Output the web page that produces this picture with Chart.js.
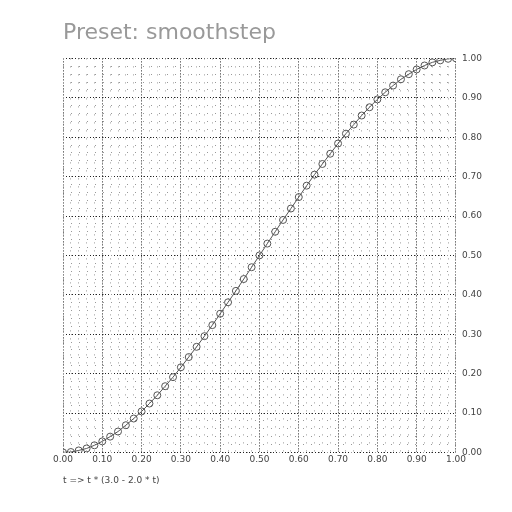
<!DOCTYPE html>
<html>
<head>
  <script src="https://cdn.jsdelivr.net/npm/chart.js"></script>
  <style>
    body { margin: 0; background: #fff; }
  </style>
</head>
<body>
  <canvas id="grafica" width="512" height="512"></canvas>
  <script>
    const titulo = 'Preset: smoothstep';
    const formula = 't => t * (3.0 - 2.0 * t)';
    const tValores = [0, 0.02, 0.04, 0.06, 0.08, 0.10, 0.12, 0.14, 0.16, 0.18, 0.20, 0.22, 0.24, 0.26, 0.28, 0.30,
      0.32, 0.34, 0.36, 0.38, 0.40, 0.42, 0.44, 0.46, 0.48, 0.50, 0.52, 0.54, 0.56, 0.58, 0.60, 0.62, 0.64, 0.66,
      0.68, 0.70, 0.72, 0.74, 0.76, 0.78, 0.80, 0.82, 0.84, 0.86, 0.88, 0.90, 0.92, 0.94, 0.96, 0.98, 1.00];
    const salida = [0, 0.001, 0.005, 0.010, 0.018, 0.028, 0.040, 0.053, 0.069, 0.086, 0.104, 0.124, 0.145, 0.168,
      0.191, 0.216, 0.242, 0.268, 0.295, 0.323, 0.352, 0.381, 0.410, 0.440, 0.470, 0.500, 0.530, 0.560, 0.590,
      0.619, 0.648, 0.677, 0.705, 0.732, 0.758, 0.784, 0.809, 0.832, 0.855, 0.876, 0.896, 0.914, 0.931, 0.947,
      0.960, 0.972, 0.982, 0.990, 0.995, 0.999, 1.000];

    const fuente = { family: 'DejaVu Sans', size: 9 };

    // rejilla menor: solo puntos sueltos cada 0.02
    function ejeMenor(axis) {
      return {
        type: 'linear', axis: axis, min: 0, max: 1,
        position: axis === 'x' ? 'bottom' : 'right',
        ticks: { display: false, stepSize: 0.02 },
        grid: { color: '#999', lineWidth: 1, drawTicks: false },
        border: { display: false, dash: [1, 7] }
      };
    }

    new Chart(document.getElementById('grafica'), {
      type: 'line',
      data: {
        datasets: [{
          data: tValores.map((t, i) => ({ x: t, y: salida[i] })),
          borderColor: '#555',
          borderWidth: 1,
          pointRadius: 3.5,
          pointBackgroundColor: 'rgba(0,0,0,0)',
          pointBorderColor: '#555',
          pointBorderWidth: 1
        }]
      },
      options: {
        responsive: false,
        animation: false,
        layout: { padding: { left: 63, right: 24, top: 20, bottom: 22 } },
        plugins: {
          legend: { display: false },
          tooltip: { enabled: false },
          title: {
            display: true, text: titulo, align: 'start', color: '#999',
            font: { family: 'DejaVu Sans', size: 22, weight: 'normal' },
            padding: { top: 0, bottom: 12 }
          }
        },
        scales: {
          x: {
            type: 'linear', min: 0, max: 1,
            ticks: { stepSize: 0.1, color: '#444', font: fuente, callback: v => v.toFixed(2), maxRotation: 0, padding: 2 },
            grid: { color: '#222', drawTicks: false },
            border: { display: false, dash: [1, 2] },
            title: { display: true, text: formula, align: 'start', color: '#444', font: fuente, padding: { top: 8 } }
          },
          y: {
            type: 'linear', min: 0, max: 1, position: 'right',
            ticks: { stepSize: 0.1, color: '#444', font: fuente, callback: v => v.toFixed(2), padding: 6 },
            grid: { color: '#222', drawTicks: false },
            border: { display: false, dash: [1, 2] }
          },
          x2: ejeMenor('x'),
          y2: ejeMenor('y')
        }
      }
    });
  </script>
</body>
</html>
